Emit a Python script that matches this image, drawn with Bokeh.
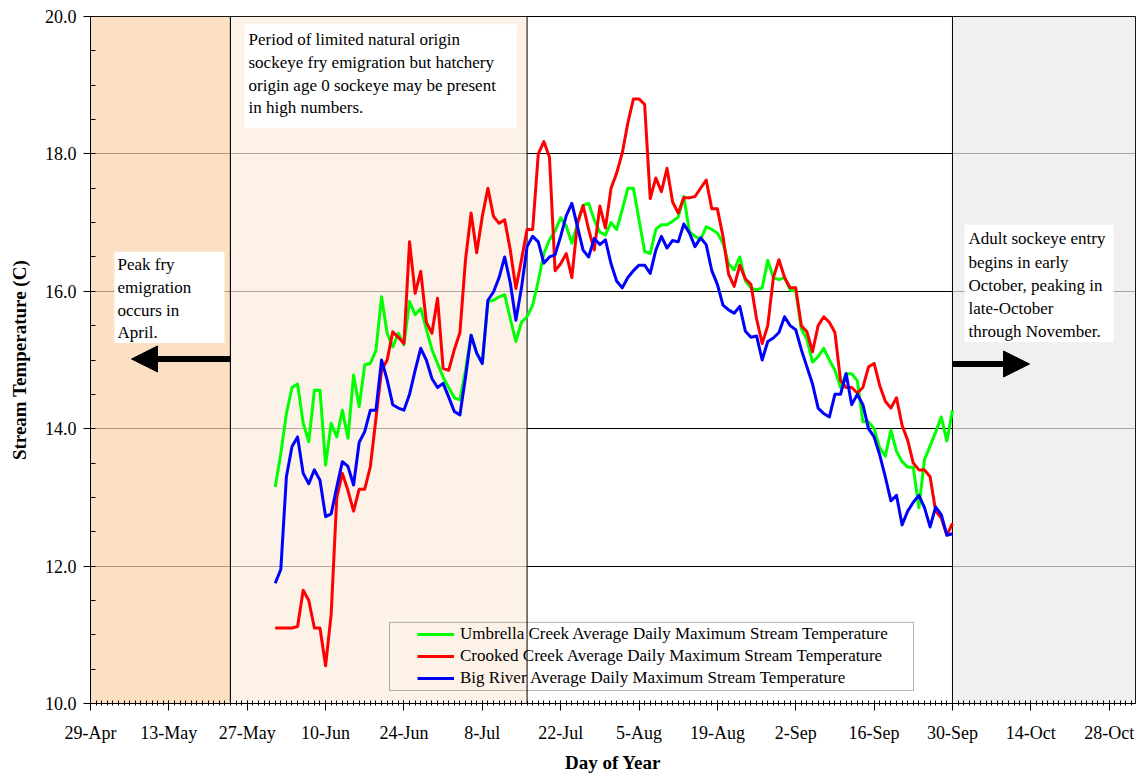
from bokeh.plotting import figure
from bokeh.models import (Range1d, FixedTicker, PrintfTickFormatter, Legend, LegendItem,
                          BoxAnnotation, Label, Arrow, NormalHead)
from bokeh.embed import file_html
from bokeh.resources import INLINE

# ---------------- data ----------------
# day of year (1-Jun = 152 ... 30-Sep = 273)
DAYS = list(range(152, 274))

UMBRELLA = [13.15, 13.64, 14.22, 14.6, 14.65, 14.08, 13.81, 14.56, 14.56, 13.47,
            14.08, 13.88, 14.27, 13.86, 14.78, 14.32, 14.93, 14.95, 15.14, 15.92,
            15.39, 15.19, 15.39, 15.22, 15.85, 15.66, 15.75, 15.45, 15.15, 14.95,
            14.75, 14.6, 14.45, 14.42, 14.85, 15.36, 15.1, 14.95, 15.85, 15.87,
            15.92, 15.95, 15.6, 15.27, 15.55, 15.63, 15.8, 16.15, 16.55, 16.75,
            16.88, 17.07, 16.95, 16.7, 16.98, 17.25, 17.28, 17.04, 16.86, 16.82,
            17.0, 16.9, 17.19, 17.5, 17.5, 17.04, 16.58, 16.55, 16.9, 16.97,
            16.97, 17.02, 17.08, 17.38, 16.87, 16.8, 16.75, 16.94, 16.9, 16.85,
            16.7, 16.4, 16.31, 16.5, 16.15, 16.05, 16.02, 16.05, 16.45, 16.2,
            16.17, 16.2, 16.02, 16.0, 15.45, 15.3, 14.97, 15.05, 15.17, 15.0,
            14.85, 14.6, 14.8, 14.8, 14.7, 14.1, 14.1, 14.0, 13.72, 13.6,
            13.98, 13.67, 13.52, 13.44, 13.44, 12.85, 13.55, 13.75, 13.95, 14.17,
            13.82, 14.27]

CROOKED = [11.1, 11.1, 11.1, 11.1, 11.12, 11.65, 11.5, 11.1, 11.1, 10.55,
           11.3, 13.0, 13.35, 13.1, 12.8, 13.12, 13.12, 13.45, 14.15, 14.85,
           15.0, 15.41, 15.33, 15.24, 16.72, 15.97, 16.29, 15.55, 15.39, 15.9,
           14.88, 14.85, 15.15, 15.4, 16.46, 17.14, 16.56, 17.09, 17.5, 17.09,
           16.99, 17.04, 16.6, 16.04, 16.46, 16.9, 16.9, 18.0, 18.18, 17.95,
           16.3, 16.4, 16.55, 16.2, 16.99, 17.25, 16.9, 16.6, 17.24, 16.92,
           17.5, 17.72, 18.01, 18.45, 18.8, 18.8, 18.72, 17.35, 17.65, 17.45,
           17.79, 17.3, 17.14, 17.36, 17.36, 17.38, 17.5, 17.62, 17.2, 17.2,
           16.8, 16.25, 16.07, 16.38, 16.18, 16.1, 15.6, 15.24, 15.5, 16.2,
           16.46, 16.2, 16.05, 16.05, 15.5, 15.41, 15.12, 15.5, 15.63, 15.55,
           15.4, 14.7, 14.6, 14.6, 14.52, 14.6, 14.9, 14.95, 14.63, 14.4,
           14.3, 14.45, 14.05, 13.83, 13.5, 13.4, 13.4, 13.3, 12.8, 12.7,
           12.45, 12.62]

BIG_RIVER = [11.75, 11.95, 13.3, 13.74, 13.88, 13.35, 13.2, 13.4, 13.25, 12.72,
             12.76, 13.15, 13.52, 13.45, 13.18, 13.8, 13.96, 14.27, 14.27, 15.0,
             14.71, 14.35, 14.3, 14.27, 14.5, 14.85, 15.17, 15.0, 14.73, 14.6,
             14.66, 14.46, 14.25, 14.2, 14.75, 15.36, 15.1, 14.95, 15.87, 15.99,
             16.2, 16.5, 16.12, 15.58, 16.05, 16.65, 16.8, 16.72, 16.41, 16.5,
             16.53, 16.8, 17.1, 17.28, 16.94, 16.6, 16.5, 16.77, 16.68, 16.75,
             16.4, 16.15, 16.05, 16.2, 16.3, 16.38, 16.38, 16.26, 16.6, 16.8,
             16.63, 16.74, 16.72, 16.98, 16.85, 16.65, 16.78, 16.68, 16.3, 16.1,
             15.8, 15.73, 15.68, 15.78, 15.42, 15.33, 15.35, 15.0, 15.27, 15.32,
             15.4, 15.63, 15.5, 15.44, 15.15, 14.9, 14.65, 14.3, 14.22, 14.17,
             14.5, 14.5, 14.8, 14.35, 14.5, 14.35, 14.0, 13.88, 13.62, 13.3,
             12.95, 13.03, 12.6, 12.8, 12.93, 13.03, 12.85, 12.57, 12.86, 12.75,
             12.45, 12.47]

TICK_DAYS = [119, 133, 147, 161, 175, 189, 203, 217, 231, 245, 259, 273, 287, 301]
TICK_LABELS = ["29-Apr", "13-May", "27-May", "10-Jun", "24-Jun", "8-Jul", "22-Jul",
               "5-Aug", "19-Aug", "2-Sep", "16-Sep", "30-Sep", "14-Oct", "28-Oct"]

SERIES_NAMES = ["Umbrella Creek Average Daily Maximum Stream Temperature",
                "Crooked Creek Average Daily Maximum Stream Temperature",
                "Big River Average Daily Maximum Stream Temperature"]

# period boundaries (day of year)
X_MIN, X_MAX = 119, 305.7
PEAK_FRY_END = 144      # 24-May
HATCHERY_END = 197      # 16-Jul
ADULT_START = 273       # 30-Sep

FONT = "Liberation Serif"

# helpers to place annotation boxes from layout pixels
def X(px):
    return X_MIN + (px - 90) / 5.597

def Y(py):
    return 20 - (py - 17) / 68.6

p = figure(width=1141, height=776, output_backend="svg", toolbar_location=None,
           x_range=Range1d(X_MIN, X_MAX), y_range=Range1d(10, 20),
           min_border_left=90, min_border_top=16, min_border_right=6, min_border_bottom=73)
p.background_fill_color = "white"
p.border_fill_color = "white"
p.outline_line_color = "black"
p.outline_line_alpha = 1

# axes
p.xaxis.ticker = FixedTicker(ticks=TICK_DAYS, minor_ticks=list(range(119, 306)))
p.xaxis.major_label_overrides = {d: l for d, l in zip(TICK_DAYS, TICK_LABELS)}
p.yaxis.ticker = FixedTicker(ticks=[10, 12, 14, 16, 18, 20],
                             minor_ticks=[10 + 0.5 * i for i in range(21)])
p.yaxis.formatter = PrintfTickFormatter(format="%.1f")
for ax in (p.xaxis[0], p.yaxis[0]):
    ax.axis_line_color = "black"
    ax.major_tick_line_color = "black"
    ax.minor_tick_line_color = "black"
    ax.major_label_text_font = FONT
    ax.major_label_text_font_size = "18px"
    ax.major_label_text_color = "black"
    ax.axis_label_text_font = FONT
    ax.axis_label_text_font_size = "19px"
    ax.axis_label_text_font_style = "bold"
    ax.axis_label_text_color = "black"
p.xaxis.major_tick_in = 3
p.xaxis.major_tick_out = 7
p.xaxis.minor_tick_in = 3
p.xaxis.minor_tick_out = 2
p.xaxis.major_label_standoff = 12
p.xaxis.axis_label = "Day of Year"
p.xaxis.axis_label_standoff = 6
p.yaxis.major_tick_in = 0
p.yaxis.major_tick_out = 7
p.yaxis.minor_tick_in = 5
p.yaxis.minor_tick_out = 0
p.yaxis.major_label_standoff = 7
p.yaxis.axis_label = "Stream Temperature (C)"
p.yaxis.axis_label_standoff = 12

p.xgrid.visible = False
p.ygrid.grid_line_color = "black"
p.ygrid.grid_line_width = 1

# shaded periods
p.quad(left=[X_MIN], right=[PEAK_FRY_END], bottom=[10], top=[20],
       fill_color=(251, 211, 171), fill_alpha=0.7, line_color="black", line_width=1)
p.quad(left=[PEAK_FRY_END], right=[HATCHERY_END], bottom=[10], top=[20],
       fill_color=(252, 236, 222), fill_alpha=0.7, line_color="black", line_width=1)
p.quad(left=[ADULT_START], right=[X_MAX], bottom=[10], top=[20],
       fill_color=(234, 234, 234), fill_alpha=0.7, line_color="black", line_width=1)

# series
g = p.line(DAYS, UMBRELLA, line_color="#00FF00", line_width=3, line_join="round")
r = p.line(DAYS, CROOKED, line_color="#FF0000", line_width=3, line_join="round")
b = p.line(DAYS, BIG_RIVER, line_color="#0000FF", line_width=3, line_join="round")

# legend
p.add_layout(BoxAnnotation(left=X(389), right=X(913), top=Y(622), bottom=Y(690),
                           fill_alpha=0, line_color="black", line_width=1))
legend = Legend(items=[LegendItem(label=SERIES_NAMES[0], renderers=[g]),
                       LegendItem(label=SERIES_NAMES[1], renderers=[r]),
                       LegendItem(label=SERIES_NAMES[2], renderers=[b])],
                location=(327, 14), label_text_font=FONT, label_text_font_size="17px",
                label_text_color="black", label_height=22, glyph_height=22, glyph_width=37,
                label_standoff=6, spacing=0, padding=0, margin=0,
                border_line_alpha=0, background_fill_alpha=0)
p.add_layout(legend)

# text boxes
def text_box(l, r_, t, bt, lines, x_text, y_lines):
    p.add_layout(BoxAnnotation(left=X(l), right=X(r_), top=Y(t), bottom=Y(bt),
                               fill_color="white", fill_alpha=1, line_alpha=0))
    for txt, yy in zip(lines, y_lines):
        p.add_layout(Label(x=X(x_text), y=Y(yy), text=txt, text_font=FONT,
                           text_font_size="17px", text_color="black",
                           text_baseline="middle", text_align="left"))

text_box(244, 516, 25, 128,
         ["Period of limited natural origin", "sockeye fry emigration but hatchery",
          "origin age 0 sockeye may be present", "in high numbers."],
         248, [40, 63, 86, 108])
text_box(114, 224, 252, 343,
         ["Peak fry", "emigration", "occurs in", "April."],
         117, [265, 288, 311, 333])
text_box(964, 1113, 225, 342,
         ["Adult sockeye entry", "begins in early", "October, peaking in",
          "late-October", "through November."],
         968, [239, 263, 286, 309, 332])

# arrows
p.add_layout(Arrow(end=NormalHead(size=26, fill_color="black", line_color="black"),
                   x_start=PEAK_FRY_END, y_start=Y(359), x_end=X(131), y_end=Y(359),
                   line_color="black", line_width=6))
p.add_layout(Arrow(end=NormalHead(size=26, fill_color="black", line_color="black"),
                   x_start=ADULT_START, y_start=Y(364), x_end=X(1029), y_end=Y(364),
                   line_color="black", line_width=6))

open("out.html", "w").write(file_html(p, INLINE))
